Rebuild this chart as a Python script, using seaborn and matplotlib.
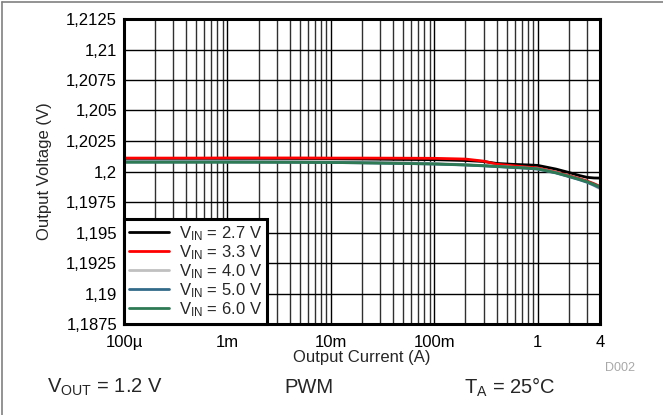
import numpy as np
import pandas as pd
import matplotlib
matplotlib.use("Agg")
import matplotlib.pyplot as plt
from matplotlib.lines import Line2D
from matplotlib.ticker import FixedLocator, FixedFormatter, NullFormatter
import seaborn as sns

# Load-regulation data: output voltage vs. output current for several input voltages
current_a = [1e-4, 2e-4, 5e-4, 1e-3, 2e-3, 5e-3, 1e-2, 2e-2, 5e-2, 0.1, 0.2,
             0.3, 0.4, 0.6, 0.8, 1.0, 1.5, 2.0, 2.5, 3.0, 3.5, 4.0]

vout_vin_2v7 = [1.20100, 1.20100, 1.20100, 1.20100, 1.20100, 1.20100, 1.20100,
                1.20100, 1.20099, 1.20097, 1.20090, 1.20082, 1.20066, 1.20058,
                1.20054, 1.20050, 1.20020, 1.19992, 1.19968, 1.19952, 1.19947,
                1.19946]
vout_vin_3v3 = [1.20110, 1.20110, 1.20110, 1.20111, 1.20111, 1.20111, 1.20110,
                1.20110, 1.20109, 1.20108, 1.20102, 1.20085, 1.20060, 1.20046,
                1.20036, 1.20029, 1.19995, 1.19966, 1.19943, 1.19922, 1.19900,
                1.19878]
vout_vin_4v0 = [1.20085, 1.20085, 1.20085, 1.20085, 1.20085, 1.20084, 1.20083,
                1.20080, 1.20074, 1.20066, 1.20056, 1.20048, 1.20042, 1.20034,
                1.20028, 1.20022, 1.19990, 1.19960, 1.19935, 1.19912, 1.19885,
                1.19858]
vout_vin_5v0 = [1.20078, 1.20078, 1.20078, 1.20078, 1.20077, 1.20076, 1.20074,
                1.20071, 1.20066, 1.20061, 1.20053, 1.20046, 1.20040, 1.20032,
                1.20026, 1.20020, 1.19988, 1.19958, 1.19934, 1.19912, 1.19888,
                1.19865]
vout_vin_6v0 = [1.20076, 1.20076, 1.20076, 1.20076, 1.20076, 1.20075, 1.20074,
                1.20071, 1.20066, 1.20062, 1.20054, 1.20048, 1.20042, 1.20034,
                1.20028, 1.20022, 1.19990, 1.19961, 1.19938, 1.19917, 1.19895,
                1.19873]

series_labels = [r"V$_{\mathrm{IN}}$ = 2.7 V", r"V$_{\mathrm{IN}}$ = 3.3 V",
                 r"V$_{\mathrm{IN}}$ = 4.0 V", r"V$_{\mathrm{IN}}$ = 5.0 V",
                 r"V$_{\mathrm{IN}}$ = 6.0 V"]
series_values = [vout_vin_2v7, vout_vin_3v3, vout_vin_4v0, vout_vin_5v0, vout_vin_6v0]
series_colors = ["#000000", "#ff0000", "#c0c0c0", "#336a8a", "#2e7a55"]

y_ticks = [1.1875, 1.19, 1.1925, 1.195, 1.1975, 1.2, 1.2025, 1.205, 1.2075, 1.21, 1.2125]
y_tick_labels = ["1,1875", "1,19", "1,1925", "1,195", "1,1975", "1,2",
                 "1,2025", "1,205", "1,2075", "1,21", "1,2125"]
x_ticks = [1e-4, 1e-3, 1e-2, 1e-1, 1, 4]
x_tick_labels = ["100µ", "1m", "10m", "100m", "1", "4"]

df = pd.DataFrame({
    "current": np.tile(current_a, len(series_labels)),
    "vout": np.concatenate(series_values),
    "series": np.repeat(series_labels, len(current_a)),
})

sns.set_theme(style="white")
plt.rcParams["font.family"] = ["Liberation Sans", "DejaVu Sans"]
plt.rcParams["mathtext.fontset"] = "custom"
plt.rcParams["mathtext.rm"] = "Liberation Sans"
plt.rcParams["mathtext.it"] = "Liberation Sans:italic"
plt.rcParams["mathtext.bf"] = "Liberation Sans:bold"

fig = plt.figure(figsize=(6.63, 4.15), dpi=100)
ax = fig.add_axes([124 / 663, 1 - 324 / 415, (600 - 124) / 663, (324 - 19) / 415])

ax.set_xscale("log")
ax.set_xlim(1e-4, 4)
ax.set_ylim(1.1875, 1.2125)

# grid: every decade subdivision and every voltage step
minor_x = [m * 10.0 ** e for e in range(-4, 1) for m in range(2, 10) if m * 10.0 ** e < 4]
for xv in minor_x:
    ax.axvline(xv, color="#303030", lw=1.0, zorder=1)
for xv in [1e-3, 1e-2, 1e-1, 1]:
    ax.axvline(xv, color="#000000", lw=1.0, zorder=1)
for yv in y_ticks[1:-1]:
    ax.axhline(yv, color="#000000", lw=1.0, zorder=1)

sns.lineplot(data=df, x="current", y="vout", hue="series", hue_order=series_labels,
             palette=series_colors, linewidth=2.0, ax=ax, legend=True, zorder=3)

ax.xaxis.set_major_locator(FixedLocator(x_ticks))
ax.xaxis.set_major_formatter(FixedFormatter(x_tick_labels))
ax.xaxis.set_minor_locator(FixedLocator([]))
ax.xaxis.set_minor_formatter(NullFormatter())
ax.yaxis.set_major_locator(FixedLocator(y_ticks))
ax.yaxis.set_major_formatter(FixedFormatter(y_tick_labels))
ax.tick_params(axis="both", length=0, labelsize=12, colors="#000000")
ax.tick_params(axis="x", pad=8)
ax.tick_params(axis="y", pad=5)

ax.set_xlabel("Output Current (A)", fontsize=12, labelpad=0)
ax.set_ylabel("Output Voltage (V)", fontsize=12, labelpad=10)

for sp in ax.spines.values():
    sp.set_visible(True)
    sp.set_color("#000000")
    sp.set_linewidth(2.2)
    sp.set_zorder(5)

handles, labels = ax.get_legend_handles_labels()
leg = ax.legend(handles, labels, loc="lower left", fontsize=12, frameon=True,
                fancybox=False, borderaxespad=0, handlelength=2.4,
                handletextpad=0.6, labelspacing=0.02, borderpad=0.3)
leg.get_frame().set_edgecolor("#000000")
leg.get_frame().set_linewidth(2.2)
leg.get_frame().set_facecolor("white")
leg.get_frame().set_alpha(1)
leg.set_zorder(6)

fig.text(620 / 663, 1 - 368 / 415, "D002", fontsize=9, color="#a8a8a8",
         ha="center", va="center")
fig.text(47 / 663, 1 - 387 / 415, r"V$_{\mathrm{OUT}}$ = 1.2 V", fontsize=14.5,
         ha="left", va="center")
fig.text(309 / 663, 1 - 387 / 415, "PWM", fontsize=14.5, ha="center", va="center")
fig.text(510 / 663, 1 - 387 / 415, r"T$_{\mathrm{A}}$ = 25°C", fontsize=14.5,
         ha="center", va="center")

# outer frame lines along the top and left edges
fig.add_artist(Line2D([2 / 663, 1], [1 - 2 / 415, 1 - 2 / 415],
                      transform=fig.transFigure, color="#808080", lw=1.2))
fig.add_artist(Line2D([2 / 663, 2 / 663], [0, 1 - 2 / 415],
                      transform=fig.transFigure, color="#808080", lw=1.2))

fig.savefig("out.png", dpi=100)
